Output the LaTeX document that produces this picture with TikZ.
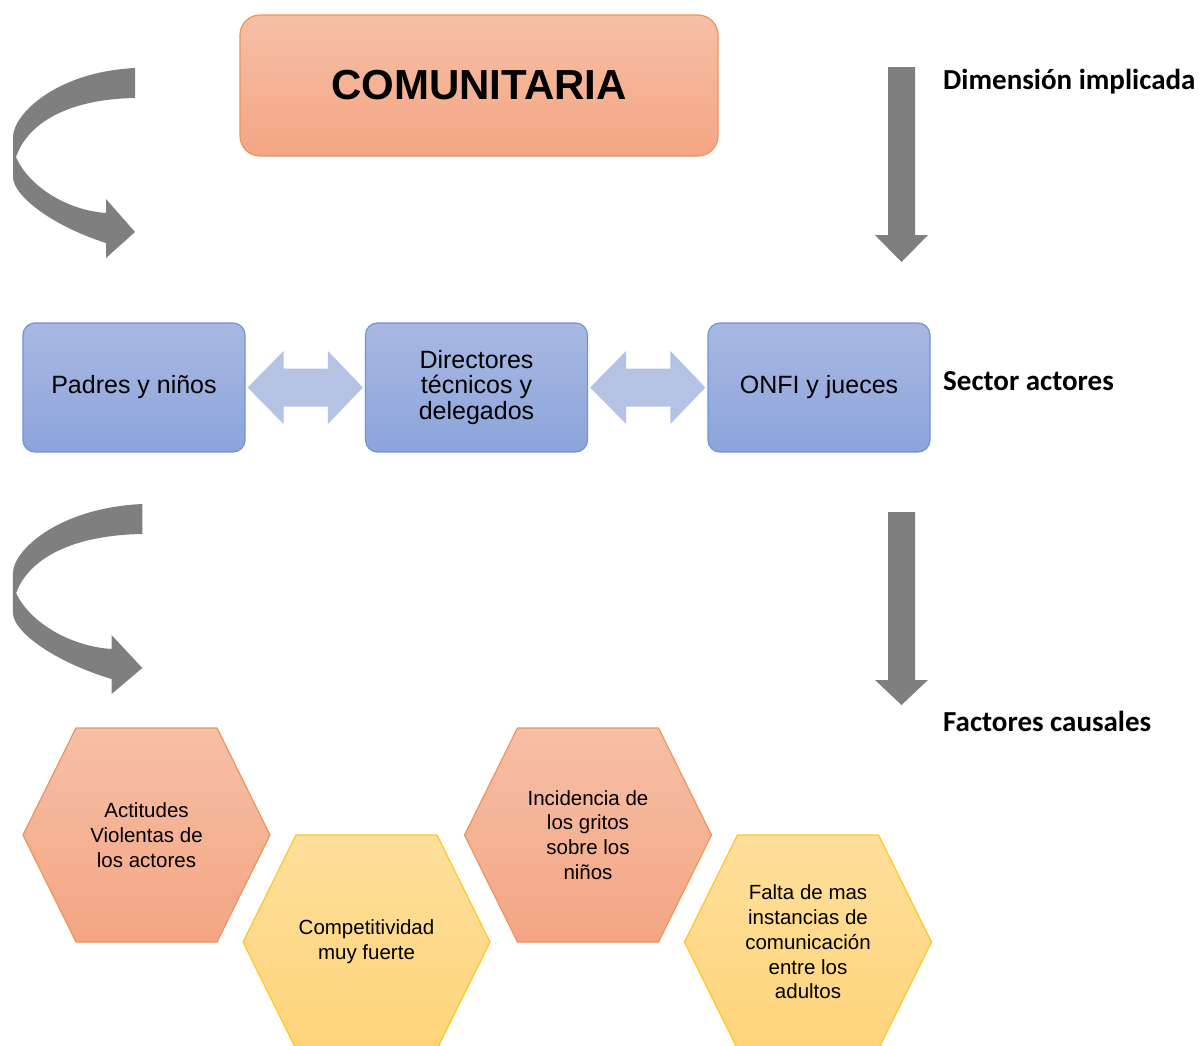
\documentclass[tikz,border=0pt]{standalone}
\usepackage{fontspec}
\setmainfont{Liberation Sans}
\newfontfamily\calib{Carlito}
\usetikzlibrary{calc,backgrounds}
\definecolor{orTop}{HTML}{F6BFA6}
\definecolor{orBot}{HTML}{F4A583}
\definecolor{orLine}{HTML}{EE9458}
\definecolor{yeTop}{HTML}{FEDF9B}
\definecolor{yeBot}{HTML}{FED47A}
\definecolor{yeLine}{HTML}{FFC62A}
\definecolor{blTop}{HTML}{A9B8E2}
\definecolor{blBot}{HTML}{8CA4DB}
\definecolor{blLine}{HTML}{6F93D8}
\definecolor{dblCol}{HTML}{B4C2E4}
\definecolor{grayArr}{HTML}{7F7F7F}
\tikzset{
  titlebox/.style={draw=orLine, line width=1.2pt, top color=orTop, bottom color=orBot,
    rounded corners=20pt, minimum width=478pt, minimum height=141pt, inner sep=0pt,
    font=\fontsize{42}{42}\selectfont\bfseries},
  actorbox/.style={draw=blLine, line width=1.2pt, top color=blTop, bottom color=blBot,
    rounded corners=12pt, minimum width=222pt, minimum height=129pt, inner sep=0pt,
    align=center, font=\fontsize{25}{25.5}\selectfont},
  hexbox/.style={rectangle, minimum width=247pt, minimum height=214pt,
    inner sep=0pt, outer sep=0pt, align=center, font=\fontsize{20.5}{24.8}\selectfont},
  hexor/.style={draw=orLine, line width=1.2pt, top color=orTop, bottom color=orBot},
  hexye/.style={draw=yeLine, line width=1.2pt, top color=yeTop, bottom color=yeBot},
  sidelabel/.style={anchor=base west, inner sep=0pt, font=\calib\bfseries\fontsize{29}{30}\selectfont},
  dblarr/.style={fill=dblCol},
  grayarr/.style={fill=grayArr},
  curvarrow/.pic={
    \fill[grayarr] (135,68) -- (135,98)
      .. controls (70,99) and (28,122) .. (16,157)
      .. controls (28,185) and (65,210) .. (106,213)
      -- (106,199) -- (135,232) -- (106,258) -- (106,243)
      .. controls (50,225) and (13,195) .. (13,177)
      -- (13,137)
      .. controls (13,115) and (55,72) .. (135,68) -- cycle;
  }
}
\newcommand\mydblarrow[2]{%
  \fill[dblarr] let \p1=(#1.east), \p2=(#2.west) in
    (\x1+2pt,\y1) -- (\x1+38pt,\y1+36.5pt) -- (\x1+38pt,\y1+19pt)
    -- (\x2-37pt,\y1+19pt) -- (\x2-37pt,\y1+36.5pt) -- (\x2-2pt,\y1)
    -- (\x2-37pt,\y1-36.5pt) -- (\x2-37pt,\y1-19pt) -- (\x1+38pt,\y1-19pt)
    -- (\x1+38pt,\y1-36.5pt) -- cycle;}
\newcommand\myhex[2]{% #1 node name, #2 style
  \begin{scope}[on background layer]
  \path[#2] (#1.west) -- ($(#1.north west)+(53,0)$) -- ($(#1.north east)+(-53,0)$)
    -- (#1.east) -- ($(#1.south east)+(-53,0)$) -- ($(#1.south west)+(53,0)$) -- cycle;
  \end{scope}}
\begin{document}
\begin{tikzpicture}[x=1pt,y=-1pt]
\useasboundingbox (0,0) rectangle (1202,1045);

% title
\node[titlebox] (com) at (479,85.5) {COMUNITARIA};

% actors
\node[actorbox] (padres) at (134,387.5) {Padres y niños};
\node[actorbox] (dir) at (476.5,387.5) {Directores\\técnicos y\\delegados};
\node[actorbox] (onfi) at (819,387.5) {ONFI y jueces};
\mydblarrow{padres}{dir}
\mydblarrow{dir}{onfi}

% curved arrows
\pic at (0,0) {curvarrow};
\pic[xscale=1.06] at (-0.8,436) {curvarrow};

% down arrows
\fill[grayarr] (888,67) -- (915,67) -- (915,235) -- (928,235) -- (901.5,262) -- (875,235) -- (888,235) -- cycle;
\fill[grayarr] (888,512) -- (915,512) -- (915,680) -- (928,680) -- (901.5,705) -- (875,680) -- (888,680) -- cycle;

% side labels
\node[sidelabel] (ldim) at (943,89) {Dimensión implicada};
\node[sidelabel] (lsec) at (943,390) {Sector actores};
\node[sidelabel] (lfac) at (943,731) {Factores causales};

% hexagons
\node[hexbox] (h1) at (146.5,835) {Actitudes\\Violentas de\\los actores};
\node[hexbox] (h2) at (366.5,942) {Competitividad\\muy fuerte};
\node[hexbox] (h3) at (588,835) {Incidencia de\\los gritos\\sobre los\\niños};
\node[hexbox] (h4) at (808,942) {Falta de mas\\instancias de\\comunicación\\entre los\\adultos};
\myhex{h1}{hexor}
\myhex{h2}{hexye}
\myhex{h3}{hexor}
\myhex{h4}{hexye}
\end{tikzpicture}
\end{document}
